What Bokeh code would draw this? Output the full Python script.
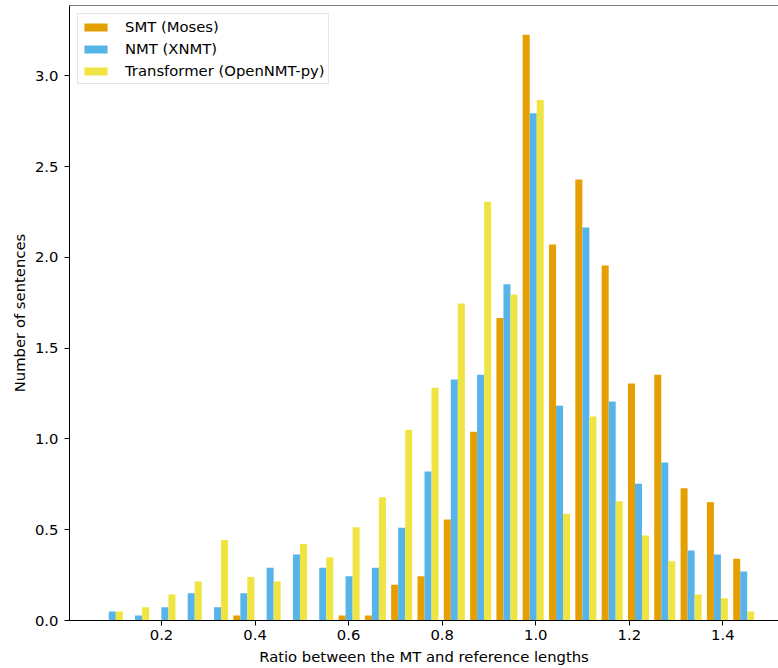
from bokeh.plotting import figure
from bokeh.models import FixedTicker, Span, NumeralTickFormatter
from bokeh.embed import file_html
from bokeh.resources import INLINE

# ---- data ----
bin_centers = [0.0948, 0.1510, 0.2073, 0.2635, 0.3198, 0.3760, 0.4322, 0.4885,
               0.5447, 0.6010, 0.6572, 0.7134, 0.7697, 0.8259, 0.8822, 0.9384,
               0.9946, 1.0509, 1.1071, 1.1634, 1.2196, 1.2758, 1.3321, 1.3883,
               1.4446]
bin_width = 0.05624

smt_moses = [0, 0, 0, 0, 0, 0.027, 0, 0, 0, 0.027, 0.027, 0.197, 0.244, 0.556,
             1.040, 1.666, 3.227, 2.072, 2.430, 1.956, 1.306, 1.354, 0.729,
             0.652, 0.340]
nmt_xnmt = [0.050, 0.027, 0.073, 0.150, 0.073, 0.150, 0.290, 0.364, 0.290,
            0.244, 0.290, 0.511, 0.821, 1.328, 1.354, 1.853, 2.795, 1.183,
            2.165, 1.207, 0.753, 0.870, 0.386, 0.364, 0.270]
transformer = [0.050, 0.073, 0.143, 0.215, 0.444, 0.239, 0.215, 0.422, 0.349,
               0.514, 0.679, 1.051, 1.282, 1.747, 2.307, 1.796, 2.867, 0.588,
               1.124, 0.657, 0.468, 0.327, 0.143, 0.123, 0.050]

series_names = ["SMT (Moses)", "NMT (XNMT)", "Transformer (OpenNMT-py)"]
series_values = [smt_moses, nmt_xnmt, transformer]
series_colors = ["#E69F00", "#56B4E9", "#F0E442"]

x_ticks = [0.2, 0.4, 0.6, 0.8, 1.0, 1.2, 1.4]
y_ticks = [0.0, 0.5, 1.0, 1.5, 2.0, 2.5, 3.0]

FONT = "DejaVu Sans"
FS = "14.8px"

y_end = 3.388
p = figure(width=778, height=668,
           x_range=(0.00334, 1.5189), y_range=(0, y_end),
           min_border_left=69, min_border_right=0,
           min_border_top=5, min_border_bottom=48,
           output_backend="svg", toolbar_location=None)

bar_w = 0.8 * bin_width / 3
for k, (name, vals, col) in enumerate(zip(series_names, series_values, series_colors)):
    xs = [c + (k - 1) * bar_w for c in bin_centers]
    p.vbar(x=xs, top=vals, bottom=0, width=bar_w, fill_color=col,
           line_color=None, legend_label=name)

p.xgrid.visible = False
p.ygrid.visible = False
p.outline_line_color = None
p.background_fill_color = "white"
p.border_fill_color = "white"

p.add_layout(Span(location=y_end, dimension="width", line_color="black",
                  line_width=1))

for ax in (p.xaxis[0], p.yaxis[0]):
    ax.axis_line_color = "black"
    ax.axis_line_width = 1
    ax.major_tick_line_color = "black"
    ax.major_tick_in = 0
    ax.major_tick_out = 5
    ax.minor_tick_line_color = None
    ax.major_label_text_font = FONT
    ax.major_label_text_font_size = FS
    ax.major_label_text_color = "black"
    ax.axis_label_text_font = FONT
    ax.axis_label_text_font_size = FS
    ax.axis_label_text_font_style = "normal"
    ax.axis_label_text_color = "black"
    ax.formatter = NumeralTickFormatter(format="0.0")

p.xaxis[0].ticker = FixedTicker(ticks=x_ticks)
p.yaxis[0].ticker = FixedTicker(ticks=y_ticks)
p.xaxis[0].axis_label = "Ratio between the MT and reference lengths"
p.yaxis[0].axis_label = "Number of sentences"
p.xaxis[0].major_label_standoff = 4
p.xaxis[0].axis_label_standoff = 5
p.yaxis[0].major_label_standoff = 6
p.yaxis[0].axis_label_standoff = 4

lg = p.legend[0]
lg.location = "top_left"
lg.margin = 8
lg.padding = 3
lg.spacing = 3
lg.glyph_width = 29
lg.glyph_height = 10
lg.label_height = 19
lg.label_standoff = 15
lg.label_text_font = FONT
lg.label_text_font_size = FS
lg.label_text_color = "black"
lg.border_line_color = "#cccccc"
lg.border_line_width = 1
lg.background_fill_alpha = 0.8

open("out.html", "w").write(file_html(p, INLINE))
